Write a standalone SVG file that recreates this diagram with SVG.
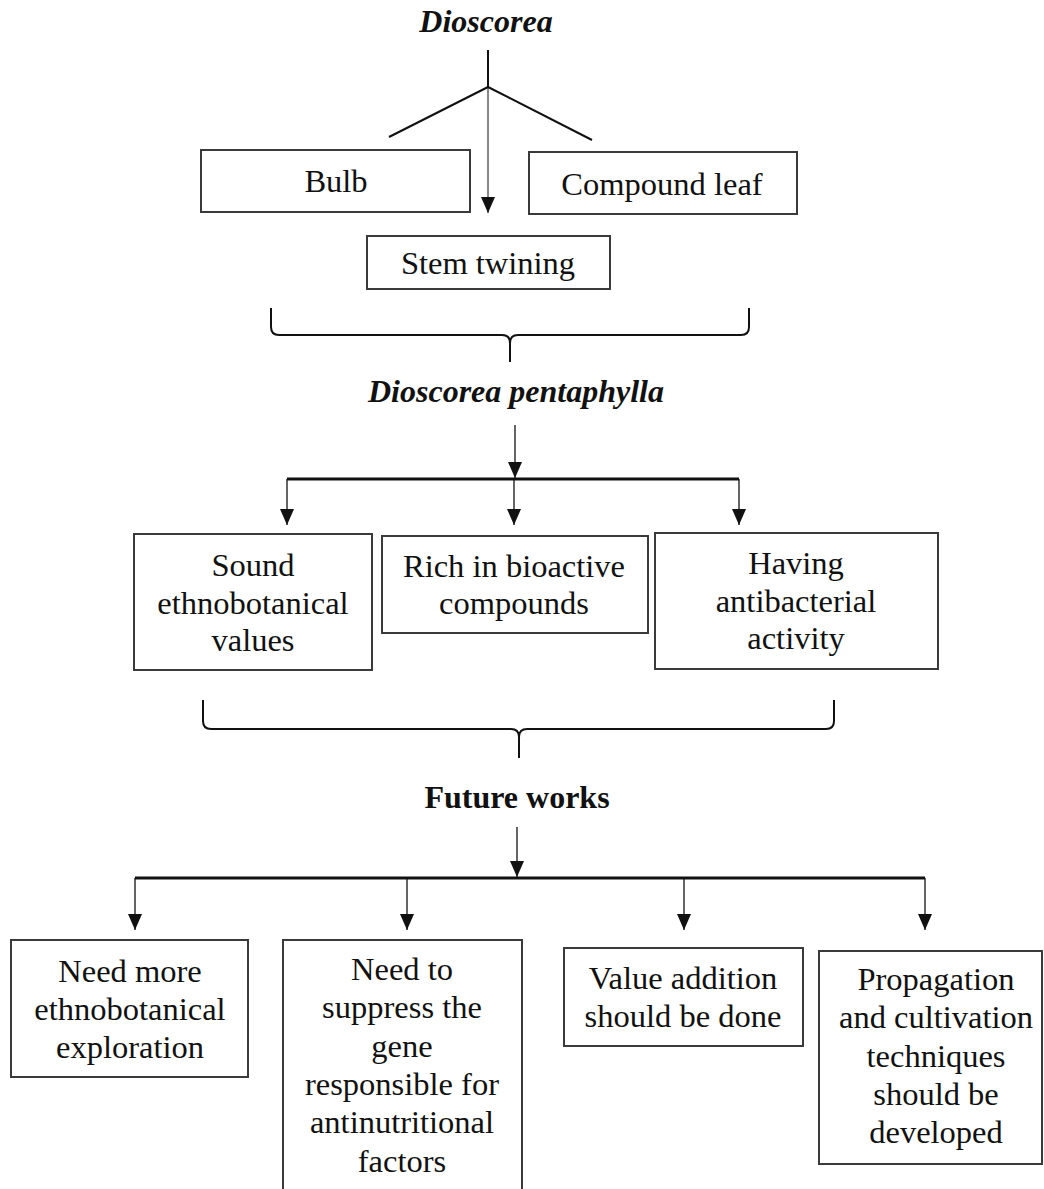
<svg xmlns="http://www.w3.org/2000/svg" width="1044" height="1189" viewBox="0 0 1044 1189">
<style>
.bx{fill:#fff;stroke:#3a3a3a;stroke-width:2}
.t{font-family:"Liberation Serif","Times New Roman",serif;font-size:32.5px;fill:#111;text-anchor:middle}
.h{font-weight:bold;font-size:32px}
.i{font-style:italic}
.ln{fill:none;stroke:#111;stroke-width:1.3}
.bar{fill:none;stroke:#111;stroke-width:3}
.br{fill:none;stroke:#111;stroke-width:2}
</style>
<defs>
<marker id="ah" viewBox="0 0 16 14" refX="16" refY="7" markerWidth="16" markerHeight="14" markerUnits="userSpaceOnUse" orient="auto">
<path d="M0,0 L16,7 L0,14 z" fill="#111"/>
</marker>
</defs>
<rect width="1044" height="1189" fill="#fff"/>

<g id="dioscorea"><text class="t h i" x="486" y="32">Dioscorea</text></g>
<g id="bulb"><rect class="bx" x="201" y="150" width="269" height="62"/><text class="t" x="336" y="192">Bulb</text></g>
<g id="compound-leaf"><rect class="bx" x="529" y="152" width="268" height="62"/><text class="t" x="662" y="195">Compound leaf</text></g>
<g id="stem-twining"><rect class="bx" x="367" y="236" width="243" height="53"/><text class="t" x="488" y="274">Stem twining</text></g>

<g id="dioscorea-pentaphylla"><text class="t h i" x="516" y="402">Dioscorea pentaphylla</text></g>
<g id="sound"><rect class="bx" x="134" y="534" width="238" height="136"/>
<text class="t" x="253" y="576">Sound</text><text class="t" x="253" y="614">ethnobotanical</text><text class="t" x="253" y="651">values</text></g>
<g id="rich"><rect class="bx" x="382" y="536" width="266" height="97"/>
<text class="t" x="514" y="577">Rich in bioactive</text><text class="t" x="514" y="614">compounds</text></g>
<g id="having"><rect class="bx" x="655" y="533" width="283" height="136"/>
<text class="t" x="796" y="574">Having</text><text class="t" x="796" y="612">antibacterial</text><text class="t" x="796" y="649">activity</text></g>

<g id="future-works"><text class="t h" x="517" y="808">Future works</text></g>
<g id="need-more"><rect class="bx" x="11" y="940" width="237" height="137"/>
<text class="t" x="130" y="982">Need more</text><text class="t" x="130" y="1020">ethnobotanical</text><text class="t" x="130" y="1058">exploration</text></g>
<g id="need-to"><path class="bx" d="M283,1192 V940 H522 V1192"/>
<text class="t" x="402" y="980">Need to</text><text class="t" x="402" y="1018">suppress the</text><text class="t" x="402" y="1057">gene</text><text class="t" x="402" y="1095">responsible for</text><text class="t" x="402" y="1133">antinutritional</text><text class="t" x="402" y="1172">factors</text></g>
<g id="value-addition"><rect class="bx" x="564" y="948" width="239" height="98"/>
<text class="t" x="683" y="989">Value addition</text><text class="t" x="683" y="1027">should be done</text></g>
<g id="propagation"><rect class="bx" x="819" y="951" width="223" height="213"/>
<text class="t" x="936" y="990">Propagation</text><text class="t" x="936" y="1028">and cultivation</text><text class="t" x="936" y="1067">techniques</text><text class="t" x="936" y="1105">should be</text><text class="t" x="936" y="1143">developed</text></g>

<g id="connectors">
<path class="br" d="M488,50 V87"/>
<path class="ln" d="M488,87 L389,137 M488,87 L592,140" style="stroke-width:2"/>
<path class="ln" d="M488,87 V213" marker-end="url(#ah)" style="stroke-width:1"/>
<path class="br" d="M271,308 V327 Q271,335 279,335 H502 Q510,335 510,343 V362 M510,343 Q510,335 518,335 H741 Q749,335 749,327 V308"/>
<path class="ln" d="M515,425 V478" marker-end="url(#ah)"/>
<path class="bar" d="M287,479 H739"/>
<path class="ln" d="M287,479 V525" marker-end="url(#ah)"/>
<path class="ln" d="M514,479 V525" marker-end="url(#ah)"/>
<path class="ln" d="M739,479 V525" marker-end="url(#ah)"/>
<path class="br" d="M203,700 V721 Q203,729 211,729 H511 Q519,729 519,737 V758 M519,737 Q519,729 527,729 H826 Q834,729 834,721 V700"/>
<path class="ln" d="M517,827 V877" marker-end="url(#ah)"/>
<path class="bar" d="M135,878 H925"/>
<path class="ln" d="M135,878 V930" marker-end="url(#ah)"/>
<path class="ln" d="M407,878 V930" marker-end="url(#ah)"/>
<path class="ln" d="M684,878 V930" marker-end="url(#ah)"/>
<path class="ln" d="M925,878 V930" marker-end="url(#ah)"/>
</g>
</svg>
